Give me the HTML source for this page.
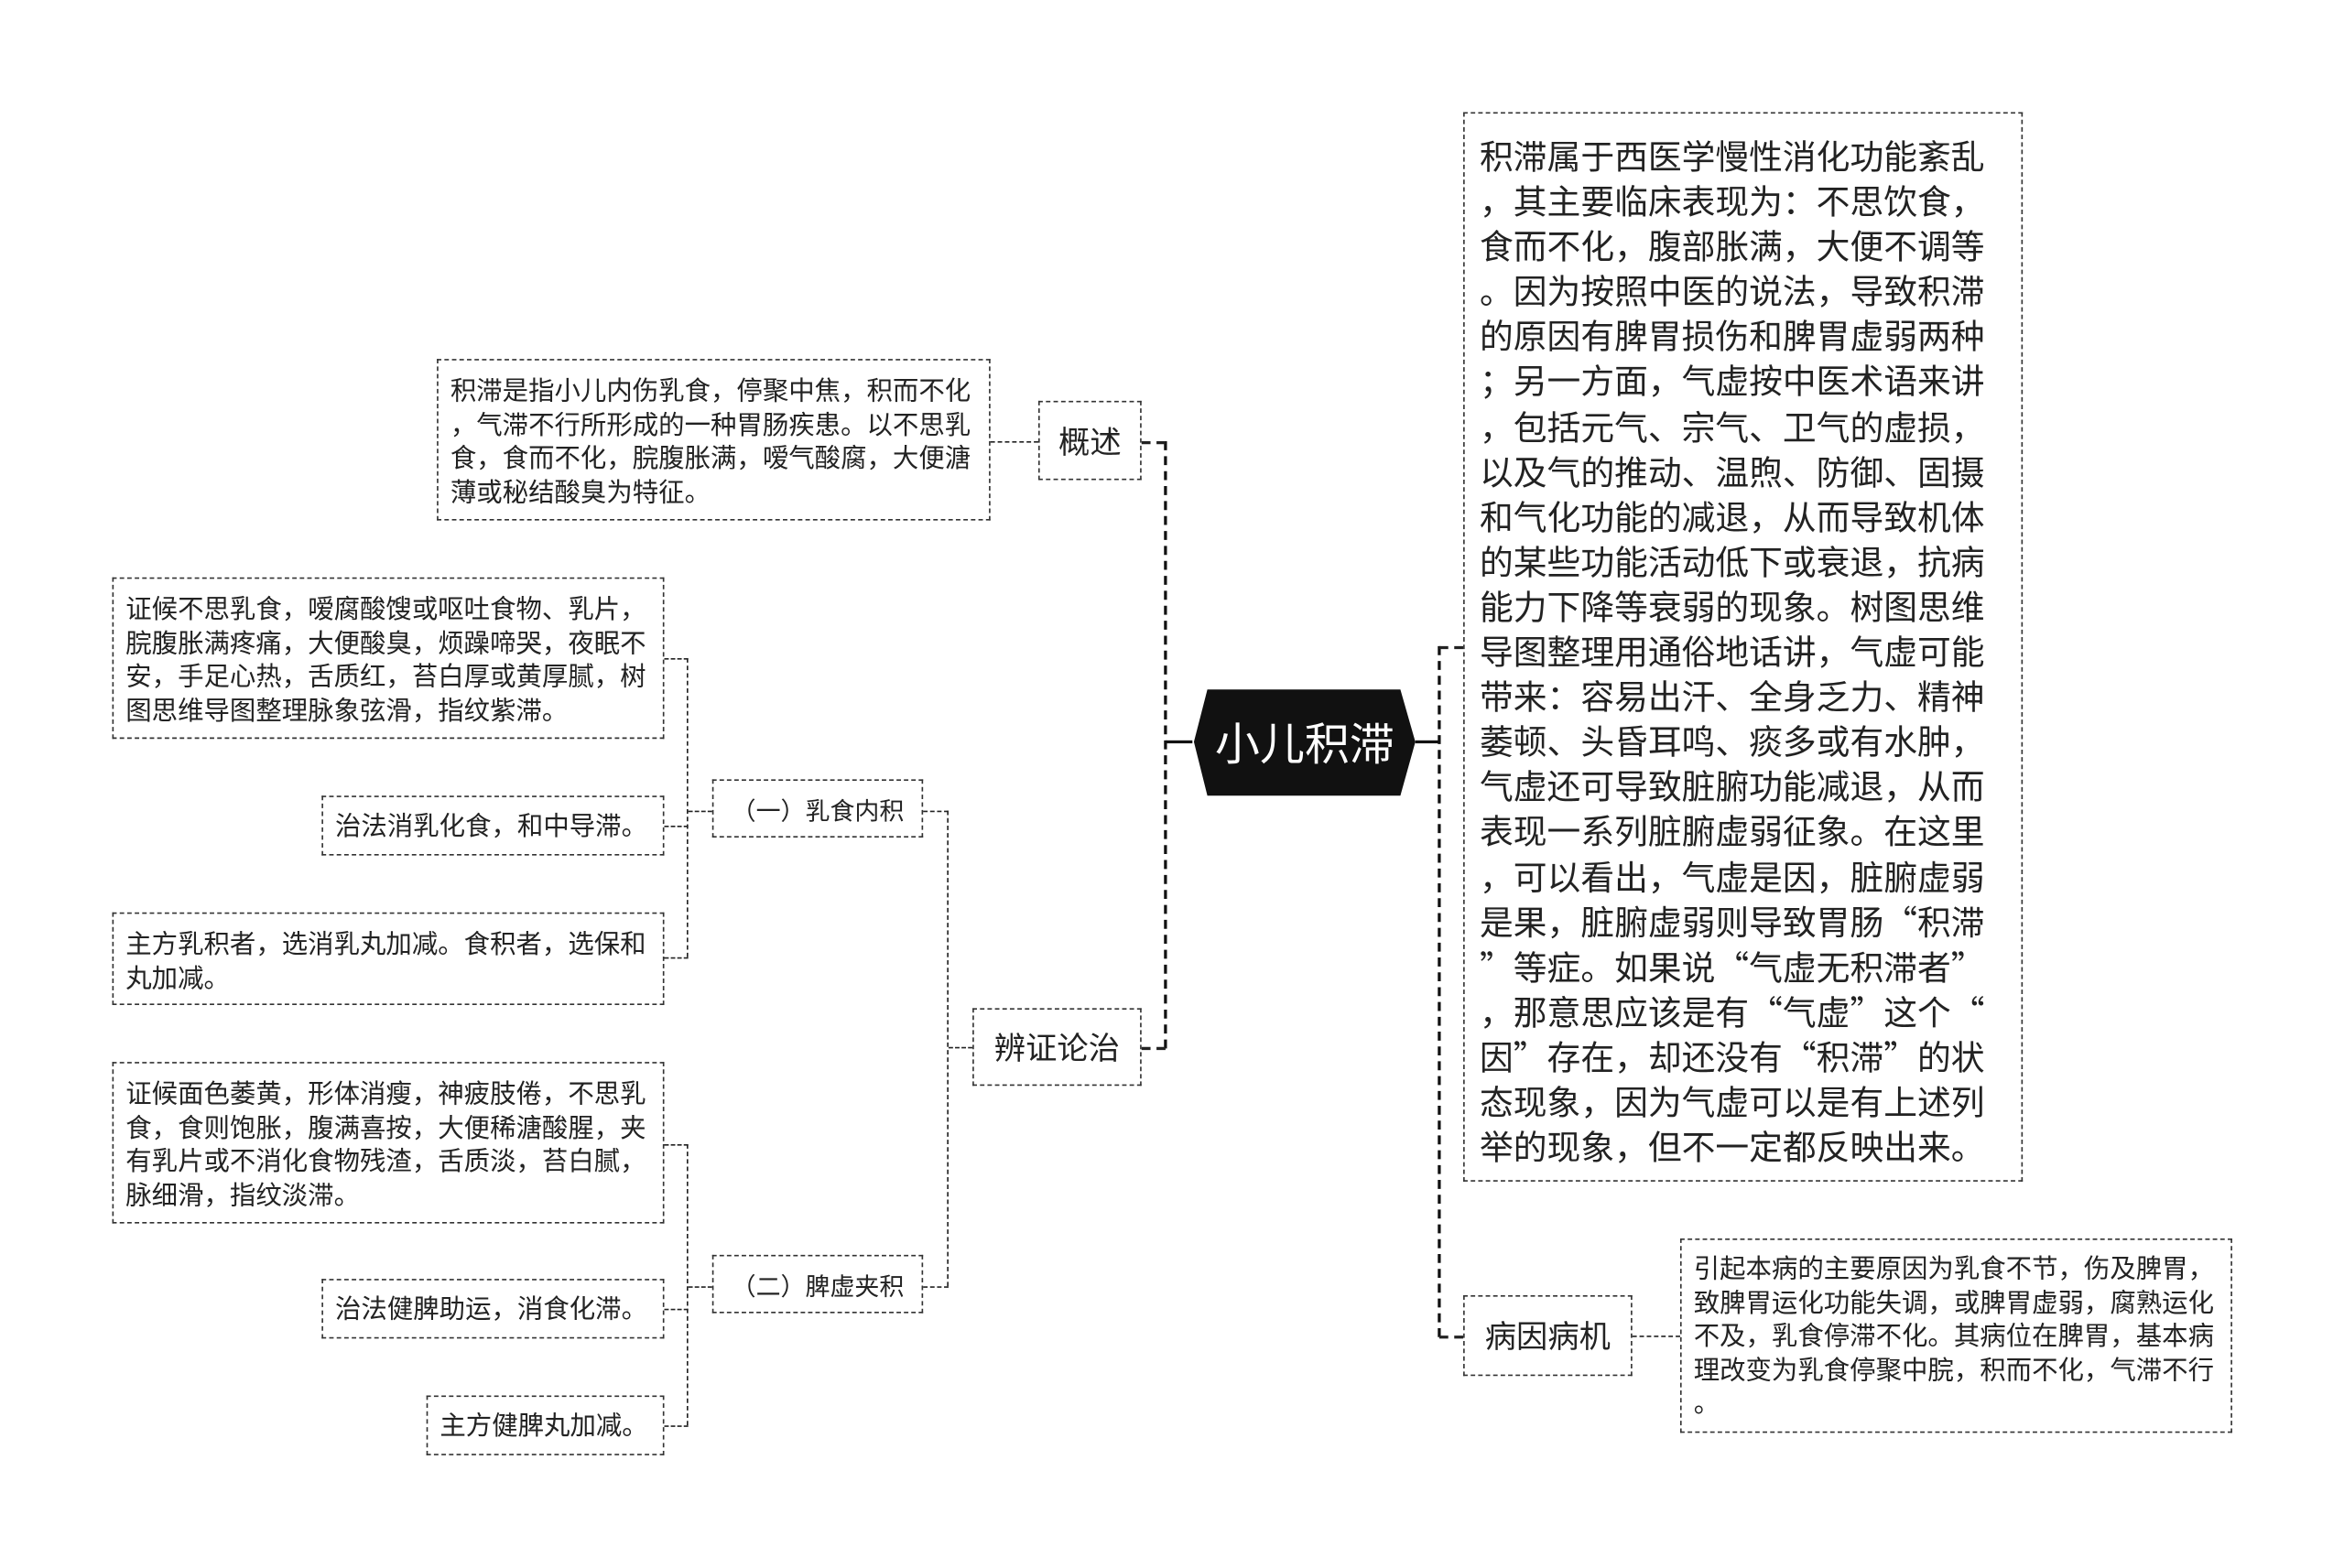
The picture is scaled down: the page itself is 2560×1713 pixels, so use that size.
<!DOCTYPE html>
<html><head><meta charset="utf-8"><style>
html,body{margin:0;padding:0;background:#fff;}
#wrap{width:2560px;height:1713px;overflow:hidden;position:relative;}
#c{position:absolute;left:0;top:0;width:1567px;height:1049px;transform:scale(1.634);transform-origin:0 0;font-family:"Liberation Sans","Noto Sans CJK SC",sans-serif;color:#222;}
.b{position:absolute;border:1.4px dashed #333;box-sizing:border-box;}
.t{font-size:17.4px;line-height:22.5px;padding:9px 8px;white-space:nowrap;letter-spacing:0;font-family:"Noto Sans CJK SC",sans-serif;}
.n{font-size:21px;display:flex;align-items:center;justify-content:center;}
.h{position:absolute;border-top:1.6px dashed #222;height:0;}
.v{position:absolute;border-left:1.6px dashed #222;width:0;}
.hs{position:absolute;border-top:2.4px solid #111;height:0;}
.vs{position:absolute;border-left:2.6px dashed #111;width:0;}
</style></head><body><div id="wrap"><div id="c">

<svg style="position:absolute;left:797px;top:460px" width="150" height="73"><polygon points="10,1 139,1 149,36 139,72 10,72 1,36" fill="#111"/><text x="75" y="48" text-anchor="middle" fill="#fff" font-size="30" font-family="Liberation Sans,Noto Sans CJK SC,sans-serif">小儿积滞</text></svg>

<div class="hs" style="left:779px;top:495px;width:18px"></div>
<div class="hs" style="left:946px;top:495px;width:16px"></div>
<div class="vs" style="left:778px;top:295px;height:406px"></div>
<div class="h" style="left:763px;top:295px;width:16px;border-top-width:2.4px"></div>
<div class="h" style="left:763px;top:700px;width:16px;border-top-width:2.4px"></div>

<div class="b n" style="left:694px;top:268px;width:69px;height:53px">概述</div>
<div class="h" style="left:662px;top:295px;width:32px"></div>
<div class="b t" style="left:292px;top:240px;width:370px;height:108px">积滞是指小儿内伤乳食，停聚中焦，积而不化<br>，气滞不行所形成的一种胃肠疾患。以不思乳<br>食，食而不化，脘腹胀满，嗳气酸腐，大便溏<br>薄或秘结酸臭为特征。</div>

<div class="b n" style="left:650px;top:674px;width:113px;height:52px">辨证论治</div>
<div class="h" style="left:634px;top:700px;width:16px"></div>
<div class="v" style="left:633px;top:542px;height:318px"></div>
<div class="h" style="left:617px;top:542px;width:17px"></div>
<div class="h" style="left:617px;top:860px;width:17px"></div>

<div class="b n" style="left:476px;top:521px;width:141px;height:39px;font-size:16.5px">（一）乳食内积</div>
<div class="b n" style="left:476px;top:839px;width:141px;height:39px;font-size:16.5px">（二）脾虚夹积</div>

<div class="h" style="left:460px;top:542px;width:16px"></div>
<div class="v" style="left:459px;top:440px;height:200px"></div>
<div class="h" style="left:444px;top:440px;width:16px"></div>
<div class="h" style="left:444px;top:552px;width:16px"></div>
<div class="h" style="left:444px;top:640px;width:16px"></div>
<div class="b t" style="left:75px;top:386px;width:369px;height:108px">证候不思乳食，嗳腐酸馊或呕吐食物、乳片，<br>脘腹胀满疼痛，大便酸臭，烦躁啼哭，夜眠不<br>安，手足心热，舌质红，苔白厚或黄厚腻，树<br>图思维导图整理脉象弦滑，指纹紫滞。</div>
<div class="b t" style="left:215px;top:532px;width:229px;height:40px;padding-top:8px">治法消乳化食，和中导滞。</div>
<div class="b t" style="left:75px;top:610px;width:369px;height:62px">主方乳积者，选消乳丸加减。食积者，选保和<br>丸加减。</div>

<div class="h" style="left:460px;top:860px;width:16px"></div>
<div class="v" style="left:459px;top:765px;height:188px"></div>
<div class="h" style="left:444px;top:765px;width:16px"></div>
<div class="h" style="left:444px;top:875px;width:16px"></div>
<div class="h" style="left:444px;top:953px;width:16px"></div>
<div class="b t" style="left:75px;top:710px;width:369px;height:108px">证候面色萎黄，形体消瘦，神疲肢倦，不思乳<br>食，食则饱胀，腹满喜按，大便稀溏酸腥，夹<br>有乳片或不消化食物残渣，舌质淡，苔白腻，<br>脉细滑，指纹淡滞。</div>
<div class="b t" style="left:215px;top:855px;width:229px;height:40px;padding-top:8px">治法健脾助运，消食化滞。</div>
<div class="b t" style="left:285px;top:933px;width:159px;height:40px;padding-top:8px">主方健脾丸加减。</div>

<div class="vs" style="left:961px;top:432px;height:462px"></div>
<div class="h" style="left:962px;top:432px;width:16px;border-top-width:2.4px"></div>
<div class="h" style="left:962px;top:893px;width:16px;border-top-width:2.4px"></div>
<div class="b" style="left:978px;top:75px;width:374px;height:715px;font-size:22.5px;line-height:30.1px;padding:13px 10px;white-space:nowrap;font-family:'Noto Sans CJK SC',sans-serif">积滞属于西医学慢性消化功能紊乱<br>，其主要临床表现为：不思饮食，<br>食而不化，腹部胀满，大便不调等<br>。因为按照中医的说法，导致积滞<br>的原因有脾胃损伤和脾胃虚弱两种<br>；另一方面，气虚按中医术语来讲<br>，包括元气、宗气、卫气的虚损，<br>以及气的推动、温煦、防御、固摄<br>和气化功能的减退，从而导致机体<br>的某些功能活动低下或衰退，抗病<br>能力下降等衰弱的现象。树图思维<br>导图整理用通俗地话讲，气虚可能<br>带来：容易出汗、全身乏力、精神<br>萎顿、头昏耳鸣、痰多或有水肿，<br>气虚还可导致脏腑功能减退，从而<br>表现一系列脏腑虚弱征象。在这里<br>，可以看出，气虚是因，脏腑虚弱<br>是果，脏腑虚弱则导致胃肠“积滞<br>”等症。如果说“气虚无积滞者”<br>，那意思应该是有“气虚”这个“<br>因”存在，却还没有“积滞”的状<br>态现象，因为气虚可以是有上述列<br>举的现象，但不一定都反映出来。</div>

<div class="b n" style="left:978px;top:866px;width:113px;height:54px">病因病机</div>
<div class="h" style="left:1091px;top:893px;width:32px"></div>
<div class="b t" style="left:1123px;top:828px;width:369px;height:130px;padding-top:8px">引起本病的主要原因为乳食不节，伤及脾胃，<br>致脾胃运化功能失调，或脾胃虚弱，腐熟运化<br>不及，乳食停滞不化。其病位在脾胃，基本病<br>理改变为乳食停聚中脘，积而不化，气滞不行<br>。</div>

</div></div></body></html>
